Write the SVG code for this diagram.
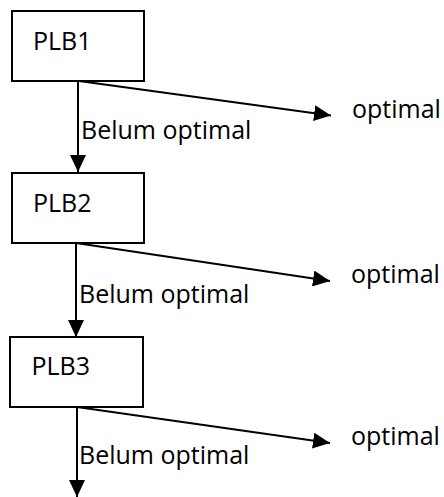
<svg xmlns="http://www.w3.org/2000/svg" width="444" height="497" viewBox="0 0 444 497">
<style>
.box{fill:#fff;stroke:#000;stroke-width:2}
.t{font-family:"Open Sans","Noto Sans","Liberation Sans",sans-serif;font-size:25px;fill:#000}
.c{stroke:#000;stroke-width:2;fill:none;marker-end:url(#ah)}
</style>
<defs>
<marker id="ah" markerUnits="userSpaceOnUse" markerWidth="17" markerHeight="16" refX="17" refY="8" orient="auto">
<path d="M0,0 L17,8 L0,16 Z" fill="#000"/>
</marker>
</defs>
<rect width="444" height="497" fill="#fff"/>
<g id="connectors">
<line class="c" x1="78" y1="81" x2="78" y2="172"/>
<line class="c" x1="79" y1="81" x2="331" y2="115.5"/>
<line class="c" x1="76" y1="243" x2="76" y2="337"/>
<line class="c" x1="76" y1="243" x2="330" y2="281"/>
<line class="c" x1="77" y1="407" x2="77" y2="497"/>
<line class="c" x1="77" y1="407" x2="330" y2="443"/>
</g>
<g id="plb1">
<rect class="box" x="12" y="11" width="132" height="70"/>
<text class="t" x="33" y="50">PLB1</text>
</g>
<g id="plb2">
<rect class="box" x="12" y="173" width="132" height="70"/>
<text class="t" x="33" y="211.5">PLB2</text>
</g>
<g id="plb3">
<rect class="box" x="10" y="337" width="133" height="70"/>
<text class="t" x="31.5" y="375">PLB3</text>
</g>
<g id="labels">
<text class="t" x="81" y="139">Belum optimal</text>
<text class="t" x="79" y="302.5">Belum optimal</text>
<text class="t" x="79" y="464">Belum optimal</text>
<text class="t" x="352" y="118">optimal</text>
<text class="t" x="351" y="283">optimal</text>
<text class="t" x="351" y="445">optimal</text>
</g>
</svg>
